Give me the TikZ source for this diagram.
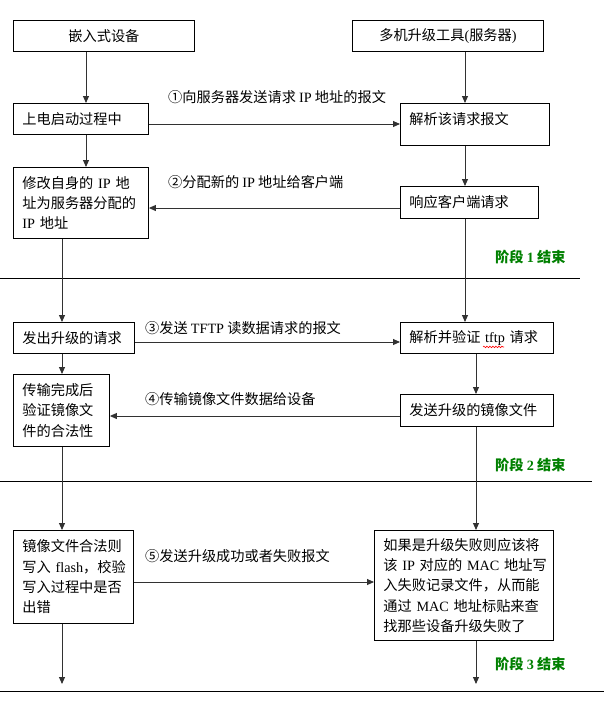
\documentclass[tikz,border=0pt]{standalone}
\usepackage{fontspec}
\setmainfont{Noto Sans CJK SC}
\newfontfamily\enfont{Liberation Serif}
\newcommand\lat[1]{{\enfont #1}}
\usetikzlibrary{arrows.meta,decorations.pathmorphing}
\definecolor{stagegreen}{RGB}{0,128,0}
\definecolor{lc}{RGB}{50,50,50}
\newcommand\boxfont{\fontsize{14.2}{20.3}\selectfont}
\begin{document}
\begin{tikzpicture}[x=1pt,y=-1pt,
  box/.style={draw=black, line width=0.9pt, inner ysep=0pt, inner xsep=9pt, anchor=north west, font=\boxfont},
  cbox/.style={box, align=center},
  lbox/.style={box, align=left},
  arr/.style={draw=lc, line width=0.9pt, -{Triangle[length=7pt,width=6pt]}},
  lbl/.style={anchor=west, inner sep=0pt, font=\boxfont},
  stage/.style={anchor=west, inner sep=0pt, font=\boxfont\bfseries, text=stagegreen},
  sline/.style={draw=black, line width=1pt}]
\fill[white] (0,0) rectangle (612,705);
\useasboundingbox (0,0) rectangle (612,705);

% boxes
\node[cbox, minimum width=181pt, minimum height=31pt, text width=163pt] (A) at (13,20) {嵌入式设备};
\node[cbox, minimum width=191pt, minimum height=31pt, text width=173pt] (B) at (352,20) {多机升级工具\lat{(}服务器\lat{)}};
\node[lbox, minimum width=135pt, minimum height=31pt, text width=117pt] (C) at (13,103) {上电启动过程中};
\node[lbox, minimum width=149pt, minimum height=42pt, text width=131pt] (D) at (400,103) {解析该请求报文\\[-8pt]\mbox{}};
\node[lbox, minimum width=135pt, minimum height=71pt, text width=117pt] (E) at (13,167) {\makebox[8em][s]{修改自身的 \lat{IP} 地}\\址为服务器分配的\\\lat{IP} 地址};
\node[lbox, minimum width=138pt, minimum height=32pt, text width=120pt] (F) at (400,186) {响应客户端请求};
\node[lbox, minimum width=121pt, minimum height=31pt, text width=103pt] (G) at (13,322) {发出升级的请求};
\node[lbox, minimum width=153pt, minimum height=31pt, text width=135pt] (H) at (400,322) {解析并验证 \lat{tftp} 请求};
\node[lbox, minimum width=96pt, minimum height=72pt, text width=78pt] (I) at (13,374) {传输完成后\\验证镜像文\\件的合法性};
\node[lbox, minimum width=153pt, minimum height=32pt, text width=135pt] (J) at (400,394) {发送升级的镜像文件};
\node[lbox, minimum width=120pt, minimum height=93pt, text width=102pt] (K) at (13,530) {镜像文件合法则\\\makebox[7em][s]{写入 \lat{flash}，校验}\\写入过程中是否\\出错};
\node[lbox, minimum width=179pt, minimum height=110pt, text width=161pt] (L) at (374,530) {如果是升级失败则应该将\\\makebox[11em][s]{该 \lat{IP} 对应的 \lat{MAC} 地址写}\\入失败记录文件，从而能\\\makebox[11em][s]{通过 \lat{MAC} 地址标贴来查}\\找那些设备升级失败了};

% spell-check wavy underline under "tftp"
\draw[red, line width=0.6pt, decorate, decoration={snake, segment length=3pt, amplitude=0.8pt}]
  ([xshift=83pt,yshift=-9pt]H.west) -- ([xshift=104pt,yshift=-9pt]H.west);

% message labels
\node[lbl] (m1) at (168,97) {①向服务器发送请求 \lat{IP} 地址的报文};
\node[lbl] (m2) at (168,182) {②分配新的 \lat{IP} 地址给客户端};
\node[lbl] (m3) at (145,328) {③发送 \lat{TFTP} 读数据请求的报文};
\node[lbl] (m4) at (145,399) {④传输镜像文件数据给设备};
\node[lbl] (m5) at (145,556) {⑤发送升级成功或者失败报文};

% stage labels
\node[stage] (s1) at (495,257) {阶段 \lat{1} 结束};
\node[stage] (s2) at (495,465) {阶段 \lat{2} 结束};
\node[stage] (s3) at (495,664) {阶段 \lat{3} 结束};

% stage separator lines
\draw[sline] (0,278) -- (580,278);
\draw[sline] (0,481) -- (592,481);
\draw[sline] (0,691) -- (604,691);

% vertical connectors
\coordinate (xa) at (86,0);
\coordinate (xb) at (465,0);
\coordinate (xc) at (62,0);
\coordinate (xd) at (476,0);
\coordinate (out1) at (62,684);
\coordinate (out2) at (476,684);
\draw[arr] (A.south -| xa) -- (C.north -| xa);
\draw[arr] (C.south -| xa) -- (E.north -| xa);
\draw[arr] (B.south -| xb) -- (D.north -| xb);
\draw[arr] (D.south -| xb) -- (F.north -| xb);
\draw[arr] (F.south -| xb) -- (H.north -| xb);
\draw[arr] (E.south -| xc) -- (G.north -| xc);
\draw[arr] (G.south -| xc) -- (I.north -| xc);
\draw[arr] (I.south -| xc) -- (K.north -| xc);
\draw[arr] (K.south -| xc) -- (out1);
\draw[arr] (H.south -| xd) -- (J.north -| xd);
\draw[arr] (J.south -| xd) -- (L.north -| xd);
\draw[arr] (L.south -| xd) -- (out2);

% horizontal connectors
\coordinate (y1) at (0,124);
\coordinate (y2) at (0,208);
\coordinate (y3) at (0,342);
\coordinate (y4) at (0,416);
\coordinate (y5) at (0,582);
\draw[arr] (C.east |- y1) -- (D.west |- y1);
\draw[arr] (F.west |- y2) -- (E.east |- y2);
\draw[arr] (G.east |- y3) -- (H.west |- y3);
\draw[arr] (J.west |- y4) -- (I.east |- y4);
\draw[arr] (K.east |- y5) -- (L.west |- y5);
\end{tikzpicture}
\end{document}
